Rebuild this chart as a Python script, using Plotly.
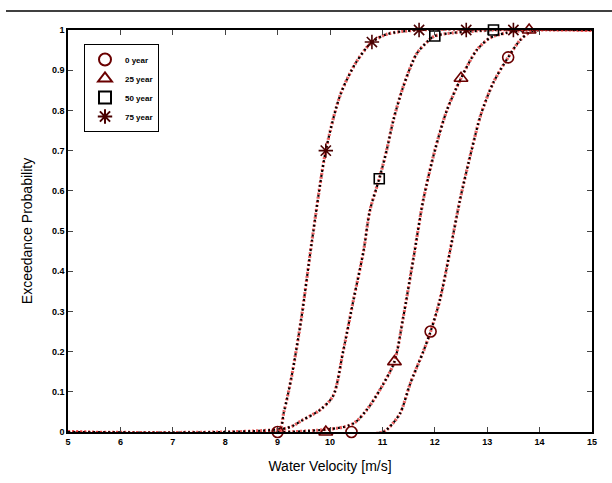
import plotly.graph_objects as go

# ---- data ----
series_names = ["0 year", "25 year", "50 year", "75 year"]

# marker points
m0_x = [9.0, 10.41, 11.92, 13.40]
m0_y = [0.0, 0.0, 0.25, 0.932]
m25_x = [9.92, 11.23, 12.50, 13.80]
m25_y = [0.0, 0.175, 0.88, 1.0]
m50_x = [10.94, 12.0, 13.12]
m50_y = [0.63, 0.985, 1.0]
m75_x = [9.92, 10.80, 11.70, 12.60, 13.50]
m75_y = [0.70, 0.97, 1.0, 1.0, 1.0]

# curve points
c0_x = [5.0, 11.01, 11.14, 11.34, 11.53, 11.78, 11.92, 12.10, 12.29, 12.48, 12.70, 12.88, 13.12, 13.40, 13.63, 13.82, 14.0, 15.0]
c0_y = [0.0, 0.0, 0.013, 0.047, 0.12, 0.20, 0.25, 0.33, 0.45, 0.577, 0.70, 0.79, 0.87, 0.932, 0.975, 0.995, 1.0, 1.0]
c25_x = [5.0, 10.38, 10.70, 11.02, 11.23, 11.40, 11.59, 11.78, 12.0, 12.23, 12.50, 12.80, 13.05, 13.37, 13.80, 15.0]
c25_y = [0.0, 0.017, 0.055, 0.12, 0.175, 0.287, 0.43, 0.577, 0.70, 0.80, 0.88, 0.95, 0.98, 0.993, 1.0, 1.0]
c50_x = [5.0, 9.18, 9.48, 9.81, 10.06, 10.25, 10.45, 10.64, 10.76, 10.94, 11.08, 11.21, 11.40, 11.65, 11.85, 12.0, 13.12, 15.0]
c50_y = [0.0, 0.01, 0.03, 0.055, 0.09, 0.20, 0.33, 0.45, 0.55, 0.63, 0.70, 0.776, 0.86, 0.94, 0.97, 0.985, 1.0, 1.0]
c75_x = [5.0, 9.0, 9.12, 9.27, 9.45, 9.65, 9.92, 10.2, 10.5, 10.8, 11.1, 11.7, 15.0]
c75_y = [0.0, 0.0, 0.05, 0.14, 0.28, 0.47, 0.70, 0.84, 0.92, 0.97, 0.99, 1.0, 1.0]

x_ticks = [5, 6, 7, 8, 9, 10, 11, 12, 13, 14, 15]
y_ticks = [0, 0.1, 0.2, 0.3, 0.4, 0.5, 0.6, 0.7, 0.8, 0.9, 1]
y_tick_text = ["0", "0.1", "0.2", "0.3", "0.4", "0.5", "0.6", "0.7", "0.8", "0.9", "1"]

FONT = "Liberation Sans, Arial, sans-serif"

fig = go.Figure()

curves = [(c0_x, c0_y), (c25_x, c25_y), (c50_x, c50_y), (c75_x, c75_y)]
for cx, cy in curves:
    fig.add_trace(go.Scatter(x=cx, y=cy, mode="lines", showlegend=False, hoverinfo="skip",
                             line=dict(color="rgba(230,40,40,0.75)", width=3.2, dash="2px,2px",
                                       shape="spline", smoothing=0.8)))
    fig.add_trace(go.Scatter(x=cx, y=cy, mode="lines", showlegend=False, hoverinfo="skip",
                             line=dict(color="black", width=2.2, dash="2px,3px",
                                       shape="spline", smoothing=0.8)))

markers = [
    (m0_x, m0_y, "circle-open", "#6a0000", 11),
    (m25_x, m25_y, "triangle-up-open", "#6a0000", 12),
    (m50_x, m50_y, "square-open", "black", 10),
    (m75_x, m75_y, "asterisk-open", "#4a0000", 12),
]
for (mx, my, sym, col, sz), name in zip(markers, series_names):
    fig.add_trace(go.Scatter(x=mx, y=my, mode="markers", name=name, cliponaxis=False,
                             marker=dict(symbol=sym, size=sz, color=col,
                                         line=dict(color=col, width=1.6))))

fig.add_shape(type="line", xref="paper", yref="paper",
              x0=(6 - 68) / 524, x1=(612 - 68) / 524,
              y0=(432 - 11) / 402, y1=(432 - 11) / 402,
              line=dict(color="black", width=1.5))

fig.update_layout(
    width=612, height=483,
    margin=dict(l=68, r=20, t=30, b=51),
    paper_bgcolor="white", plot_bgcolor="white",
    font=dict(family=FONT, color="black"),
    legend=dict(x=(84 - 68) / 524, y=(432 - 44) / 402, xanchor="left", yanchor="top",
                bordercolor="black", borderwidth=1, bgcolor="white",
                font=dict(size=8, family=FONT, weight="bold"), itemsizing="constant",
                tracegroupgap=2),
    xaxis=dict(range=[5, 15], tickvals=x_ticks, ticks="inside", ticklen=5,
               showline=True, linecolor="black", linewidth=1.5, mirror="ticks",
               showgrid=False, zeroline=False,
               tickfont=dict(size=9, family=FONT, weight="bold"),
               title=dict(text="Water Velocity [m/s]", font=dict(size=14, family=FONT), standoff=16)),
    yaxis=dict(range=[0, 1], tickvals=y_ticks, ticktext=y_tick_text, ticks="inside", ticklen=5,
               showline=True, linecolor="black", linewidth=1.5, mirror="ticks",
               showgrid=False, zeroline=False,
               tickfont=dict(size=9, family=FONT, weight="bold"),
               title=dict(text="Exceedance Probability", font=dict(size=14, family=FONT), standoff=16)),
)

fig.write_html("out.html")
